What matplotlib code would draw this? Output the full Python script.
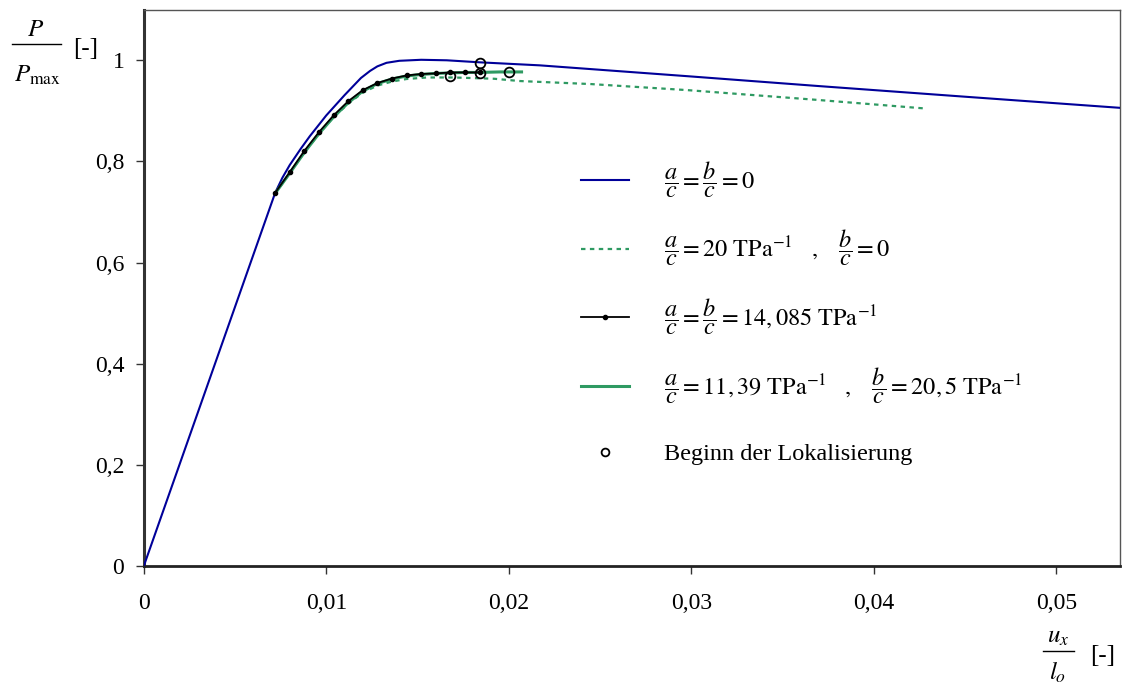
import matplotlib
matplotlib.use("Agg")
import matplotlib.pyplot as plt
from matplotlib.lines import Line2D

# Kurvendaten
x_ref = [0, 0.0072, 0.0076, 0.0080, 0.0086, 0.0091, 0.0100, 0.0110, 0.0119, 0.0124,
         0.0128, 0.0133, 0.0140, 0.0152, 0.0166, 0.0184, 0.0217, 0.0300, 0.0370,
         0.0450, 0.0535]
y_ref = [0, 0.738, 0.768, 0.793, 0.825, 0.850, 0.891, 0.931, 0.965, 0.979,
         0.988, 0.995, 0.999, 1.001, 1.000, 0.996, 0.990, 0.968, 0.949,
         0.928, 0.906]

x_a20 = [0.0072, 0.0080, 0.0088, 0.0096, 0.0104, 0.0113, 0.0120, 0.0128, 0.0136,
         0.0144, 0.0155, 0.0170, 0.0192, 0.0206, 0.0245, 0.0298, 0.0368, 0.0429]
y_a20 = [0.737, 0.777, 0.818, 0.855, 0.888, 0.917, 0.936, 0.950, 0.958,
         0.963, 0.966, 0.966, 0.9635, 0.959, 0.953, 0.941, 0.922, 0.9045]

x_ab = [0.0072, 0.0080, 0.0088, 0.0096, 0.0104, 0.0112, 0.0120, 0.0128,
        0.0136, 0.0144, 0.0152, 0.0160, 0.0168, 0.0176, 0.0184]
y_ab = [0.738, 0.779, 0.821, 0.858, 0.891, 0.919, 0.941, 0.955,
        0.964, 0.970, 0.973, 0.974, 0.976, 0.976, 0.976]

x_ab2 = [0.0072, 0.0080, 0.0088, 0.0096, 0.0104, 0.0112, 0.0120, 0.0128, 0.0136,
         0.0144, 0.0152, 0.0160, 0.0168, 0.0176, 0.0184, 0.0195, 0.0207]
y_ab2 = [0.737, 0.777, 0.818, 0.855, 0.888, 0.916, 0.939, 0.954, 0.963,
         0.969, 0.972, 0.974, 0.975, 0.976, 0.976, 0.977, 0.977]

# Beginn der Lokalisierung
x_lok = [0.0168, 0.0184, 0.0184, 0.0200]
y_lok = [0.969, 0.995, 0.975, 0.977]

xticks = [0, 0.01, 0.02, 0.03, 0.04, 0.05]
xtick_labels = ["0", "0,01", "0,02", "0,03", "0,04", "0,05"]
yticks = [0, 0.2, 0.4, 0.6, 0.8, 1.0]
ytick_labels = ["0", "0,2", "0,4", "0,6", "0,8", "1"]

labels = [
    r"$\dfrac{a}{c}=\dfrac{b}{c}=0$",
    r"$\dfrac{a}{c}=20\ \mathrm{TPa}^{-1}\quad,\quad \dfrac{b}{c}=0$",
    r"$\dfrac{a}{c}=\dfrac{b}{c}=14,085\ \mathrm{TPa}^{-1}$",
    r"$\dfrac{a}{c}=11,39\ \mathrm{TPa}^{-1}\quad,\quad \dfrac{b}{c}=20,5\ \mathrm{TPa}^{-1}$",
    "Beginn der Lokalisierung",
]

plt.rcParams['font.family'] = ['Liberation Serif', 'DejaVu Serif']
plt.rcParams['mathtext.fontset'] = 'stix'

fig = plt.figure(figsize=(11.23, 6.93), dpi=100)
ax = fig.add_axes([0.128, 0.183, 0.8695, 0.803])

blau = "#000099"
gruen = "#2e9a62"

l1, = ax.plot(x_ref, y_ref, color=blau, lw=1.5, zorder=3)
l2, = ax.plot(x_a20, y_a20, color=gruen, lw=1.6, linestyle=(0, (2, 2)), zorder=2)
l3, = ax.plot(x_ab, y_ab, color="black", lw=1.3, marker="o", markersize=3, zorder=5)
l4, = ax.plot(x_ab2, y_ab2, color=gruen, lw=2.2, zorder=4)
l5, = ax.plot(x_lok, y_lok, linestyle="none", marker="o", markersize=7, markerfacecolor="none",
              markeredgecolor="black", markeredgewidth=1.3, zorder=6)

ax.set_xlim(0, 0.0535)
ax.set_ylim(0, 1.1)
ax.set_xticks(xticks)
ax.set_xticklabels(xtick_labels)
ax.set_yticks(yticks)
ax.set_yticklabels(ytick_labels)
ax.tick_params(axis="both", labelsize=17, direction="out", length=6, width=1, colors="#333333")
ax.tick_params(axis="x", pad=13)
ax.tick_params(axis="y", pad=8)
for lbl in ax.get_xticklabels() + ax.get_yticklabels():
    lbl.set_color("black")

ax.spines["left"].set_linewidth(2.2)
ax.spines["bottom"].set_linewidth(2.0)
ax.spines["left"].set_color("#333333")
ax.spines["bottom"].set_color("#222222")
ax.spines["top"].set_linewidth(1.0)
ax.spines["right"].set_linewidth(1.0)
ax.spines["top"].set_color("#555555")
ax.spines["right"].set_color("#555555")

leg1 = ax.legend([l1, l2, l3, l4], labels[:4], loc="upper left", bbox_to_anchor=(0.435, 0.753),
                 frameon=False, fontsize=17.5, handlelength=1.98, handletextpad=1.43,
                 labelspacing=1.15, borderpad=0)
ax.add_artist(leg1)
ax.legend([l5], labels[4:], loc="upper left", bbox_to_anchor=(0.435, 0.243),
          frameon=False, fontsize=17.5, handlelength=1.98, handletextpad=1.43,
          borderpad=0, markerscale=0.8)

# Achsenbeschriftungen als Brüche
fig.text(0.032, 0.957, r"$P$", fontsize=18, ha="center", va="center")
fig.add_artist(Line2D([0.011, 0.054], [0.9365, 0.9365], color="black", lw=1.0))
fig.text(0.033, 0.891, r"$P_{\mathrm{max}}$", fontsize=18, ha="center", va="center")
fig.text(0.0766, 0.929, "[-]", fontsize=18, ha="center", va="center")

fig.text(0.942, 0.081, r"$u_x$", fontsize=18, ha="center", va="center")
fig.add_artist(Line2D([0.929, 0.956], [0.0606, 0.0606], color="black", lw=1.0))
fig.text(0.942, 0.03, r"$l_o$", fontsize=18, ha="center", va="center")
fig.text(0.982, 0.053, "[-]", fontsize=18, ha="center", va="center")

fig.savefig("out.png", dpi=100)
